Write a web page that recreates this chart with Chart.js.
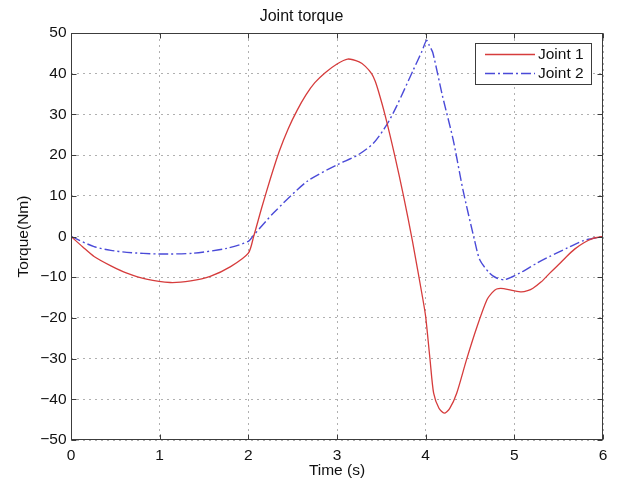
<!DOCTYPE html>
<html>
<head>
<meta charset="utf-8">
<script src="https://cdn.jsdelivr.net/npm/chart.js@4.4.0/dist/chart.umd.min.js"></script>
<style>
  html, body { margin: 0; padding: 0; background: #fff; }
  #wrap { width: 618px; height: 483px; }
</style>
</head>
<body>
<div id="wrap"><canvas id="c" width="618" height="483"></canvas></div>
<script>
// ---- data ----
const chartTitle = 'Joint torque';
const xTitle = 'Time (s)';
const yTitle = 'Torque(Nm)';
const seriesNames = ['Joint 1', 'Joint 2'];

const joint1T = [0, 0.13, 0.26, 0.45, 0.63, 0.85, 1.12, 1.35, 1.57, 1.8, 2.0, 2.06, 2.15, 2.25, 2.35, 2.45, 2.55, 2.65, 2.75, 2.87, 3.0, 3.12, 3.25, 3.32, 3.39, 3.43, 3.47, 3.54, 3.65, 3.75, 3.85, 3.97, 4.0, 4.05, 4.09, 4.15, 4.21, 4.27, 4.35, 4.46, 4.58, 4.69, 4.75, 4.8, 4.88, 4.99, 5.08, 5.15, 5.21, 5.3, 5.4, 5.5, 5.59, 5.68, 5.78, 5.88, 6.0];
const joint1V = [0, -2.5, -4.9, -7.2, -9.0, -10.5, -11.3, -10.9, -9.8, -7.4, -4.1, 0, 7, 14.3, 21, 26.5, 31, 34.8, 37.8, 40.3, 42.4, 43.6, 42.9, 41.8, 40, 38.2, 35.5, 30, 20, 10, -1, -15.6, -19.7, -30.4, -38.5, -42.2, -43.4, -42.3, -38.5, -30.3, -22.1, -15.6, -13.8, -12.9, -12.8, -13.3, -13.6, -13.3, -12.7, -11.2, -9.0, -6.9, -4.9, -3.1, -1.6, -0.5, 0];

const joint2T = [0, 0.26, 0.45, 0.63, 1.0, 1.38, 1.76, 2.0, 2.06, 2.28, 2.66, 3.0, 3.24, 3.41, 3.56, 3.67, 3.86, 3.96, 4.01, 4.04, 4.08, 4.19, 4.31, 4.42, 4.55, 4.61, 4.72, 4.8, 4.89, 5.06, 5.25, 5.4, 5.6, 5.78, 6.0];
const joint2V = [0, -2.5, -3.4, -3.9, -4.3, -4.1, -2.9, -1.2, 0.3, 5.7, 13.5, 17.6, 20.1, 22.9, 27.4, 31.9, 40.9, 45.6, 48.2, 47.0, 45.2, 34.5, 23.8, 11.5, -0.8, -5.7, -9.0, -10.2, -10.6, -9.0, -6.6, -4.9, -2.8, -1.0, 0];

const xTicks = [0, 1, 2, 3, 4, 5, 6];
const yTicks = [-50, -40, -30, -20, -10, 0, 10, 20, 30, 40, 50];

const colors = ['#d63c3c', '#4a4ad8'];
const FONT = '"Liberation Sans", Arial, Helvetica, sans-serif';
const blueDash = [10, 3, 2, 3];

function pts(T, V) { return T.map((t, i) => ({ x: t, y: V[i] })); }

const framePlugin = {
  id: 'frame',
  afterDatasetsDraw(chart) {
    const { ctx, chartArea: a, scales: { x, y } } = chart;
    const L = Math.round(a.left) + 0.5, R = Math.round(a.right) - 0.5;
    const T = Math.round(a.top) + 0.5, B = Math.round(a.bottom) - 0.5;
    ctx.save();
    ctx.strokeStyle = '#3c3c3c';
    ctx.lineWidth = 1;
    ctx.strokeRect(L, T, R - L, B - T);
    ctx.beginPath();
    const tl = 5;
    xTicks.forEach(v => {
      const p = Math.round(x.getPixelForValue(v)) + 0.5;
      ctx.moveTo(p, B); ctx.lineTo(p, B - tl);
      ctx.moveTo(p, T); ctx.lineTo(p, T + tl);
    });
    yTicks.forEach(v => {
      const p = Math.round(y.getPixelForValue(v)) + 0.5;
      ctx.moveTo(L, p); ctx.lineTo(L + tl, p);
      ctx.moveTo(R, p); ctx.lineTo(R - tl, p);
    });
    ctx.stroke();
    ctx.restore();
  },
  afterDraw(chart) {
    const { ctx } = chart;
    ctx.save();
    const bx = 475.5, by = 43.5, bw = 116, bh = 41;
    ctx.fillStyle = '#fff';
    ctx.fillRect(bx, by, bw, bh);
    ctx.strokeStyle = '#3c3c3c';
    ctx.lineWidth = 1;
    ctx.strokeRect(bx, by, bw, bh);
    const rows = [54, 73];
    const dashes = [[], blueDash];
    rows.forEach((ry, i) => {
      ctx.beginPath();
      ctx.setLineDash(dashes[i]);
      ctx.strokeStyle = colors[i];
      ctx.lineWidth = 1.3;
      ctx.moveTo(485, ry + 0.5);
      ctx.lineTo(535, ry + 0.5);
      ctx.stroke();
      ctx.setLineDash([]);
      ctx.fillStyle = '#111';
      ctx.font = '15.5px ' + FONT;
      ctx.textBaseline = 'middle';
      ctx.textAlign = 'left';
      ctx.fillText(seriesNames[i], 538, ry + 1);
    });
    ctx.restore();
  }
};

new Chart(document.getElementById('c'), {
  type: 'line',
  data: {
    datasets: [
      {
        label: seriesNames[0],
        data: pts(joint1T, joint1V),
        borderColor: colors[0],
        borderWidth: 1.3,
        pointRadius: 0,
        tension: 0.25,
        fill: false
      },
      {
        label: seriesNames[1],
        data: pts(joint2T, joint2V),
        borderColor: colors[1],
        borderWidth: 1.4,
        borderDash: blueDash,
        pointRadius: 0,
        tension: 0.25,
        fill: false
      }
    ]
  },
  options: {
    responsive: false,
    animation: false,
    devicePixelRatio: 1,
    layout: { padding: { left: 0, right: 15, top: 0, bottom: 0 } },
    plugins: {
      legend: { display: false },
      tooltip: { enabled: false },
      title: {
        display: true,
        text: chartTitle,
        color: '#111',
        font: { family: FONT, size: 16, weight: 'normal' },
        padding: { top: 6.9, bottom: 6.9 }
      }
    },
    scales: {
      x: {
        type: 'linear',
        min: 0, max: 6,
        afterBuildTicks(s) { s.ticks = xTicks.map(v => ({ value: v })); },
        afterFit(s) { s.height = 43; },
        ticks: {
          color: '#111',
          font: { family: FONT, size: 15.5 },
          padding: 6,
          maxRotation: 0
        },
        grid: { color: '#b0b0b0', lineWidth: 1, drawTicks: false },
        border: { display: false, dash: [2, 4] },
        title: {
          display: true,
          text: xTitle,
          color: '#111',
          font: { family: FONT, size: 15.5 },
          padding: { top: 0, bottom: 2.5 }
        }
      },
      y: {
        type: 'linear',
        min: -50, max: 50,
        afterBuildTicks(s) { s.ticks = yTicks.map(v => ({ value: v })); },
        afterFit(s) { s.width = 71; },
        ticks: {
          color: '#111',
          font: { family: FONT, size: 15.5 },
          padding: 4.5,
          callback: v => (v < 0 ? '\u2212' + Math.abs(v) : String(v))
        },
        grid: { color: '#b0b0b0', lineWidth: 1, drawTicks: false },
        border: { display: false, dash: [2, 4] },
        title: {
          display: true,
          text: yTitle,
          color: '#111',
          font: { family: FONT, size: 15.5 },
          padding: { top: 14.7, bottom: 0 }
        }
      }
    }
  },
  plugins: [framePlugin]
});
</script>
</body>
</html>
